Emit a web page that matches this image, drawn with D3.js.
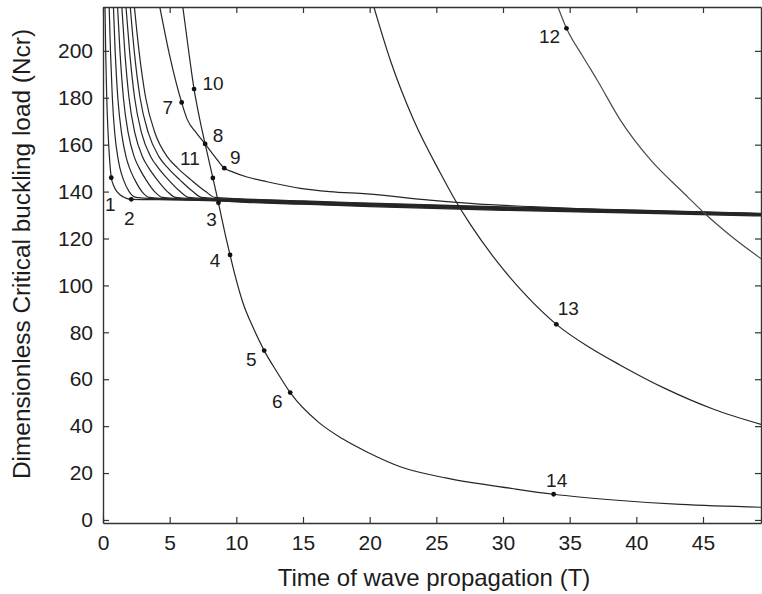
<!DOCTYPE html>
<html>
<head>
<meta charset="utf-8">
<script src="https://cdn.jsdelivr.net/npm/d3@7"></script>
<style>
  body { margin: 0; background: #fff; }
  text { font-family: "Liberation Sans", Arial, Helvetica, sans-serif; fill: #1c1c1c; }
</style>
</head>
<body>
<svg id="chart" width="762" height="594"></svg>
<script>
// Critical buckling load against time of wave propagation, one [T, Ncr] list per curve.

// Family of converging curves (the leftmost one carries points 1 and 2).
const family1 = [[0.15,219],[0.2,200],[0.28,180],[0.38,165],[0.48,155],[0.62,146],[0.8,142.5],[1.05,140],[1.5,137.8],[2.12,136.7],[5,136.5],[8,136.3],[10,135.6],[15,134.6],[20,133.6],[30,132.0],[40,130.8],[49.5,129.6]];
const family2 = [[0.46,219],[0.56,200],[0.70,180],[0.88,165],[1.10,155],[1.27,150],[1.54,145],[1.96,140],[2.49,137.5],[3.7,137.0],[10,135.8],[15,134.8],[20,133.9],[30,132.3],[40,131.0],[49.5,129.8]];
const family3 = [[0.78,219],[0.91,200],[1.11,180],[1.39,165],[1.72,155],[1.99,150],[2.39,145],[2.92,140],[3.47,137.5],[4.7,137.0],[10,136.0],[15,135.0],[20,134.1],[30,132.5],[40,131.2],[49.5,130.0]];
const family4 = [[1.09,219],[1.27,200],[1.53,180],[1.89,165],[2.33,155],[2.72,150],[3.23,145],[3.87,140],[4.46,137.5],[5.7,137.0],[10,136.2],[15,135.2],[20,134.3],[30,132.7],[40,131.4],[49.5,130.2]];
const family5 = [[1.41,219],[1.63,200],[1.95,180],[2.39,165],[2.95,155],[3.44,150],[4.07,145],[4.83,140],[5.44,137.5],[6.6,137.0],[10,136.4],[15,135.4],[20,134.5],[30,132.9],[40,131.6],[49.5,130.3]];
const family6 = [[1.72,219],[1.99,200],[2.37,180],[2.89,165],[3.57,155],[4.16,150],[4.91,145],[5.79,140],[6.43,137.5],[7.6,137.0],[10,136.6],[15,135.6],[20,134.7],[30,133.1],[40,131.8],[49.5,130.5]];
const family7 = [[2.04,219],[2.34,200],[2.78,180],[3.40,165],[4.18,155],[4.88,150],[5.76,145],[6.74,140],[7.41,137.5],[8.6,137.0],[10,136.8],[15,135.8],[20,134.9],[30,133.3],[40,132.0],[49.5,130.6]];
const family8 = [[2.35,219],[2.7,200],[3.2,180],[3.9,165],[4.8,155],[5.6,150],[6.6,145],[7.7,140],[8.4,137.5],[10,137.0],[15,136.0],[20,135.1],[30,133.5],[40,132.1],[49.5,130.7]];

// Curve through points 7, 8 and 9.
const curve79 = [[4.25,219],[5.0,198],[5.9,178],[6.3,171],[7.0,165],[7.66,160.3],[8.4,154.8],[9.1,150],[9.76,148.3],[10.8,146.2],[12.3,144.2],[14.8,141.4],[17,140.0],[19.8,139.0],[24.5,136.4],[28,134.8],[32.1,133.6],[36,132.6],[40,131.8],[45,130.9],[49.5,130.2]];

// Steep curve through points 10, 8, 11, 3, 4, 5, 6 and 14.
const curveSteep = [[5.98,219],[6.4,201],[6.83,183.7],[7.25,171],[7.66,160.3],[8.24,145.8],[8.66,135.2],[9.1,123.5],[9.53,113],[9.9,104.4],[10.5,92.5],[11.3,81.5],[12.09,72.2],[13,63.5],[14.04,54.3],[16.2,41.5],[18,34.5],[19.8,29.0],[22.3,22.7],[25.8,17.8],[30.8,13.3],[33.8,10.95],[38.3,8.5],[43.3,6.6],[49.5,5.4]];

// Curve through point 13.
const curve13 = [[20.3,219],[21.55,196],[23.3,170.5],[25.3,147.9],[26.3,137.5],[27.55,126],[29.56,110.1],[31.8,95.3],[34.0,83.4],[36.5,73.5],[38.8,66.0],[42.1,56.2],[45.8,47.2],[49.5,40.5]];

// Curve through point 12.
const curve12 = [[34.1,219],[34.76,209.6],[36.0,197.5],[37.06,187.6],[38.8,170.5],[41.07,153.5],[43.57,139.3],[45.07,131.0],[47.07,121.2],[49.5,110.8]];

// Marked points and their numbers.
const markT   = [0.62, 2.12, 8.66, 9.53, 12.09, 14.04, 5.9, 7.66, 9.1, 6.83, 8.24, 34.76, 34.0, 33.8];
const markN   = [145.9, 136.7, 135.2, 113, 72.2, 54.3, 178, 160.3, 150, 183.7, 145.8, 209.6, 83.4, 10.95];
const markTxt = ["1","2","3","4","5","6","7","8","9","10","11","12","13","14"];

// Axis ticks and titles.
const xTicks = [0, 5, 10, 15, 20, 25, 30, 35, 40, 45];
const yTicks = [0, 20, 40, 60, 80, 100, 120, 140, 160, 180, 200];
const xTitle = "Time of wave propagation (T)";
const yTitle = "Dimensionless Critical buckling load (Ncr)";

// ---- layout ----
const plot = { left: 103, right: 761, top: 7, bottom: 523 };
// label offsets (px) from each marked point, same order as markTxt
const labelOffset = [[-1,26],[-2,19],[-7,16],[-15,5],[-13,8],[-13,8],[-14,5],[13,-9],[11,-11],[19,-6],[-23,-20],[-17,8],[12,-16],[3,-14]];

const svg = d3.select("#chart");
const x = d3.scaleLinear().domain([0, 49.35]).range([plot.left, plot.right]);
const y = d3.scaleLinear().domain([-1.3, 218.7]).range([plot.bottom, plot.top]);

svg.append("defs").append("clipPath").attr("id", "plotClip")
  .append("rect")
  .attr("x", plot.left).attr("y", plot.top)
  .attr("width", plot.right - plot.left).attr("height", plot.bottom - plot.top);

const line = d3.line().x(d => x(d[0])).y(d => y(d[1])).curve(d3.curveMonotoneX);

const curves = [family1, family2, family3, family4, family5, family6, family7, family8, curve79, curveSteep, curve13, curve12];
const g = svg.append("g").attr("clip-path", "url(#plotClip)");
g.selectAll("path.curve").data(curves).join("path")
  .attr("class", "curve")
  .attr("d", line)
  .attr("fill", "none")
  .attr("stroke", (d, i) => i === curves.length - 1 ? "#4a4a4a" : "#262626")
  .attr("stroke-width", 1.2);

// marked points
const marks = markTxt.map((t, i) => ({ t: markT[i], n: markN[i], txt: t, off: labelOffset[i] }));
g.selectAll("circle.mark").data(marks).join("circle")
  .attr("class", "mark")
  .attr("cx", d => x(d.t)).attr("cy", d => y(d.n)).attr("r", 2.4)
  .attr("fill", "#111");

svg.selectAll("text.mark").data(marks).join("text")
  .attr("class", "mark")
  .attr("x", d => x(d.t) + d.off[0])
  .attr("y", d => y(d.n) + d.off[1] + 7)
  .attr("text-anchor", "middle")
  .style("font-size", "19px")
  .text(d => d.txt);

// axes: ticks point inward on all four sides
const tick = 6;
function styleAxis(sel) {
  sel.select(".domain").attr("stroke", "#333").attr("stroke-width", 1.4);
  sel.selectAll(".tick line").attr("stroke", "#333").attr("stroke-width", 1.2);
  sel.selectAll(".tick text").style("font-size", "21px").attr("fill", "#1c1c1c");
}
svg.append("g").attr("transform", `translate(0,${plot.bottom})`)
  .call(d3.axisBottom(x).tickValues(xTicks).tickSizeInner(-tick).tickSizeOuter(0).tickPadding(12))
  .call(styleAxis);
svg.append("g").attr("transform", `translate(0,${plot.top})`)
  .call(d3.axisTop(x).tickValues(xTicks).tickSizeInner(-tick).tickSizeOuter(0).tickFormat(""))
  .call(styleAxis);
svg.append("g").attr("transform", `translate(${plot.left},0)`)
  .call(d3.axisLeft(y).tickValues(yTicks).tickSizeInner(-tick).tickSizeOuter(0).tickPadding(10))
  .call(styleAxis);
svg.append("g").attr("transform", `translate(${plot.right},0)`)
  .call(d3.axisRight(y).tickValues(yTicks).tickSizeInner(-tick).tickSizeOuter(0).tickFormat(""))
  .call(styleAxis);
svg.selectAll(".domain").attr("fill", "none");
svg.selectAll("g text").attr("font-family", null);

// axis titles
svg.append("text")
  .attr("x", 434).attr("y", 586)
  .attr("text-anchor", "middle")
  .style("font-size", "24px")
  .text(xTitle);
svg.append("text")
  .attr("transform", "translate(30,254) rotate(-90)")
  .attr("text-anchor", "middle")
  .style("font-size", "24.4px")
  .text(yTitle);
</script>
</body>
</html>
